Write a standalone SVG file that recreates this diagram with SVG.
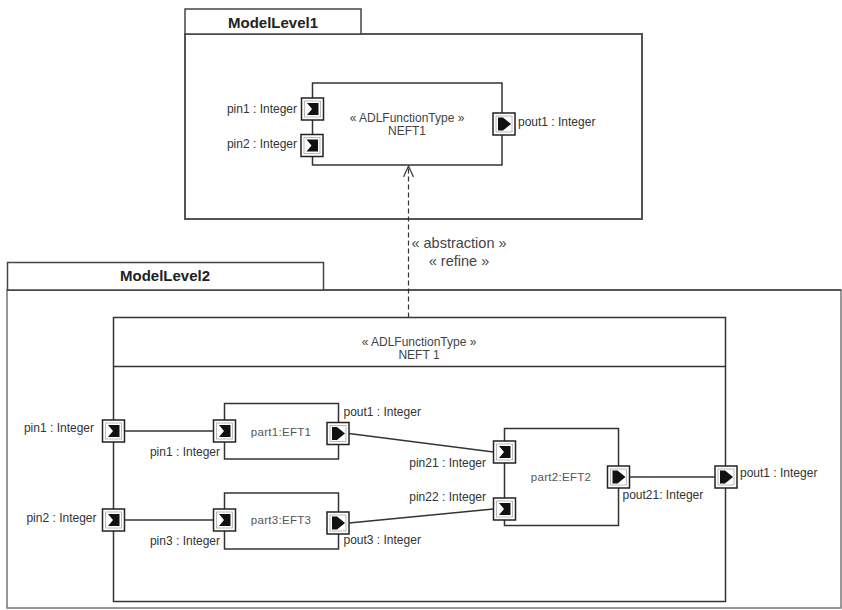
<svg xmlns="http://www.w3.org/2000/svg" xmlns:xlink="http://www.w3.org/1999/xlink" width="842" height="610" viewBox="0 0 842 610">
<style>
text{font-family:"Liberation Sans",Arial,sans-serif;fill:#333;}
.lbl{font-size:12px;}
.end{text-anchor:end;}
.mid{text-anchor:middle;}
.pkg{font-size:15px;font-weight:bold;fill:#222;text-anchor:middle;}
.part{font-size:11.5px;fill:#555;text-anchor:middle;letter-spacing:0.3px;}
.ster{font-size:12px;fill:#444;text-anchor:middle;}
.rel{font-size:14.5px;fill:#444;text-anchor:middle;}
.frame{fill:none;stroke:#555;stroke-width:2;}
.frame2{fill:none;stroke:#777;stroke-width:1.5;}
.tab{fill:#fff;stroke:#444;stroke-width:1.5;}
.blk{fill:#fff;stroke:#333;stroke-width:1.5;}
.conn{fill:none;stroke:#333;stroke-width:1.3;}
.dash{fill:none;stroke:#333;stroke-width:1.2;stroke-dasharray:5 3;}
</style>
<defs>
<g id="pin">
<rect x="0" y="0" width="22" height="22" fill="#fff" stroke="#222" stroke-width="1.5"/>
<rect x="3" y="3" width="16" height="16" fill="none" stroke="#aaa" stroke-width="0.8"/>
<polygon points="5.5,5 17,5 17,17 5.5,17 10.5,11" fill="#111"/>
</g>
<g id="pout">
<rect x="0" y="0" width="22" height="22" fill="#fff" stroke="#222" stroke-width="1.5"/>
<rect x="3" y="3" width="16" height="16" fill="none" stroke="#aaa" stroke-width="0.8"/>
<polygon points="5,4.5 10,4.5 18,11 10,17.5 5,17.5" fill="#111"/>
</g>
<marker id="open" viewBox="0 0 12 12" refX="11" refY="6" markerWidth="12" markerHeight="12" markerUnits="userSpaceOnUse" orient="auto">
<path d="M0,1 L11,6 L0,11" fill="none" stroke="#333" stroke-width="1.2"/>
</marker>
</defs>

<g id="ModelLevel1">
<rect class="frame" x="185" y="34" width="457" height="185"/>
<rect class="tab" x="185" y="9" width="176" height="25"/>
<text class="pkg" x="273" y="28">ModelLevel1</text>
</g>

<g id="ModelLevel2">
<rect class="frame2" x="7" y="290" width="834" height="318"/>
<line x1="7" y1="290" x2="841" y2="290" stroke="#555" stroke-width="2"/>
<rect class="tab" x="7.5" y="262.5" width="316" height="27.5"/>
<text class="pkg" x="165" y="281">ModelLevel2</text>
</g>

<g id="NEFT1-top">
<rect class="blk" x="312.5" y="83" width="189.5" height="82"/>
<text class="ster" x="407" y="122">« ADLFunctionType »</text>
<text class="ster" x="407" y="135">NEFT1</text>
<use xlink:href="#pin" x="301.5" y="98"/>
<use xlink:href="#pin" x="301" y="134.5"/>
<use xlink:href="#pout" x="493" y="113"/>
<text class="lbl end" x="297" y="112.5">pin1 : Integer</text>
<text class="lbl end" x="297" y="147.5">pin2 : Integer</text>
<text class="lbl" x="518" y="125.5">pout1 : Integer</text>
</g>

<g id="NEFT1-bottom">
<rect class="blk" x="113.5" y="317.5" width="612" height="284"/>
<line x1="113.5" y1="366.5" x2="725.5" y2="366.5" stroke="#333" stroke-width="1.5"/>
<text class="ster" x="419" y="346">« ADLFunctionType »</text>
<text class="ster" x="419" y="359">NEFT 1</text>
<use xlink:href="#pin" x="102.5" y="420"/>
<use xlink:href="#pin" x="102.5" y="509"/>
<use xlink:href="#pout" x="715" y="466"/>
<text class="lbl end" x="94" y="432">pin1 : Integer</text>
<text class="lbl end" x="96.5" y="521.5">pin2 : Integer</text>
<text class="lbl" x="740" y="477">pout1 : Integer</text>
</g>

<g id="part1">
<rect class="blk" x="224.5" y="403.5" width="114" height="55.5"/>
<text class="part" x="281" y="435.5">part1:EFT1</text>
<use xlink:href="#pin" x="213.5" y="420"/>
<use xlink:href="#pout" x="327" y="422.5"/>
<text class="lbl end" x="220" y="455.5">pin1 : Integer</text>
<text class="lbl" x="343.5" y="415.5">pout1 : Integer</text>
</g>

<g id="part3">
<rect class="blk" x="224.5" y="493" width="114" height="56"/>
<text class="part" x="281" y="524">part3:EFT3</text>
<use xlink:href="#pin" x="213.5" y="509"/>
<use xlink:href="#pout" x="327" y="512"/>
<text class="lbl end" x="220" y="544.5">pin3 : Integer</text>
<text class="lbl" x="343.5" y="544">pout3 : Integer</text>
</g>

<g id="part2">
<rect class="blk" x="504.5" y="428.5" width="114" height="97"/>
<text class="part" x="561" y="480.5">part2:EFT2</text>
<use xlink:href="#pin" x="493.5" y="441"/>
<use xlink:href="#pin" x="493.5" y="498"/>
<use xlink:href="#pout" x="607.5" y="466"/>
<text class="lbl end" x="486" y="466.5">pin21 : Integer</text>
<text class="lbl end" x="486" y="501">pin22 : Integer</text>
<text class="lbl" x="622.5" y="499">pout21: Integer</text>
</g>

<g id="connectors">
<line class="conn" x1="125" y1="431" x2="213.5" y2="431"/>
<line class="conn" x1="125" y1="520" x2="213.5" y2="520"/>
<line class="conn" x1="349" y1="433.5" x2="493.5" y2="452"/>
<line class="conn" x1="349" y1="523" x2="493.5" y2="509"/>
<line class="conn" x1="629.5" y1="477" x2="715" y2="477"/>
<line class="dash" x1="408.5" y1="317.5" x2="408.5" y2="166" marker-end="url(#open)"/>
<text class="rel" x="459" y="248">« abstraction »</text>
<text class="rel" x="459" y="266">« refine »</text>
</g>
</svg>
